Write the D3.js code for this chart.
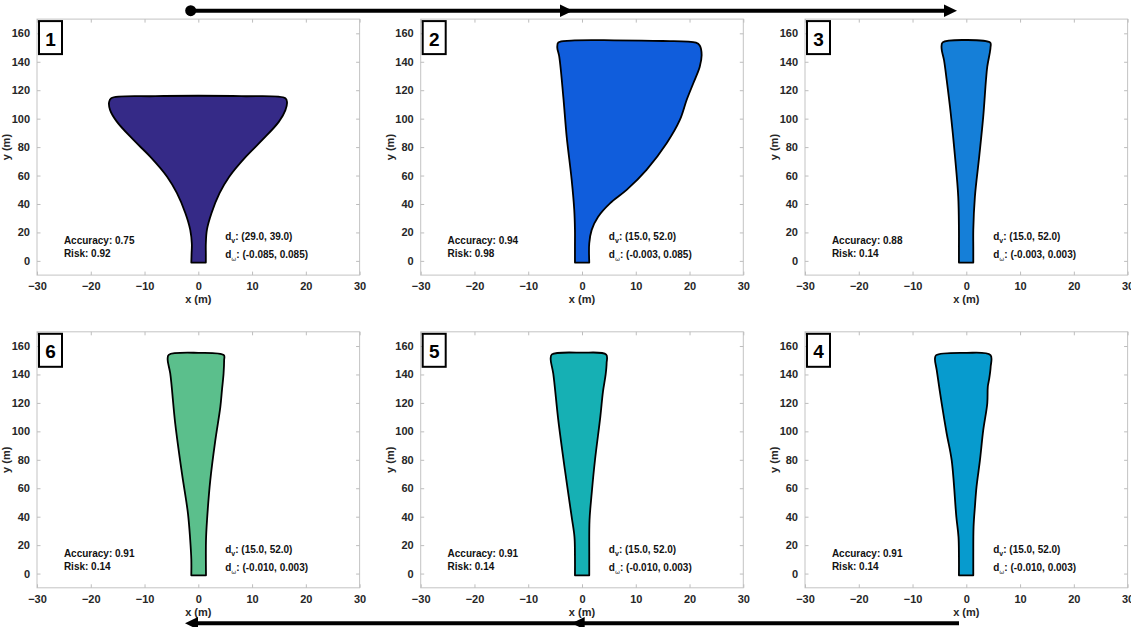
<!DOCTYPE html>
<html>
<head>
<meta charset="utf-8">
<script src="https://cdn.jsdelivr.net/npm/d3@7"></script>
<style>
  html, body { margin: 0; padding: 0; background: #fff; }
  svg { display: block; }
  text { font-family: "Liberation Sans", Arial, sans-serif; font-weight: bold; }
</style>
</head>
<body>
<svg id="chart" width="1131" height="627"></svg>
<script>
// ---------------- data ----------------
const panelIds   = ["1", "2", "3", "6", "5", "4"];
const accuracy   = ["0.75", "0.94", "0.88", "0.91", "0.91", "0.91"];
const risk       = ["0.92", "0.98", "0.14", "0.14", "0.14", "0.14"];
const dv         = ["(29.0, 39.0)", "(15.0, 52.0)", "(15.0, 52.0)", "(15.0, 52.0)", "(15.0, 52.0)", "(15.0, 52.0)"];
const dw         = ["(-0.085, 0.085)", "(-0.003, 0.085)", "(-0.003, 0.003)", "(-0.010, 0.003)", "(-0.010, 0.003)", "(-0.010, 0.003)"];
const fillColors = ["#352a87", "#105ddc", "#157fd8", "#5bbf8c", "#16b0b4", "#079bce"];

const xTicks = [-30, -20, -10, 0, 10, 20, 30];
const yTicks = [0, 20, 40, 60, 80, 100, 120, 140, 160];
const xDomain = [-30, 30];
const yDomain = [-10, 170];

// reachable-set outlines (x, y) in metres
const shape1 = [[-1.3,-1.2],[-1.25,5],[-1.2,12],[-1.5,21.8],[-2.4,33.5],[-3.97,47.6],[-5.8,59.2],[-8.95,73.3],[-12.05,85],[-15.15,97.9],[-16.4,106],[-16.6,111.5],[-16.2,114.4],
  [-8,115.8],[0,116.1],[8,115.8],
  [16.2,114.4],[16.5,111.5],[16.2,106],[15.0,97.9],[11.9,85],[8.85,73.3],[5.75,59.2],[3.95,47.6],[2.45,33.5],[1.6,21.8],[1.4,12],[1.4,5],[1.4,-1.2]];
const shape2 = [[-1.31,-1.2],[-1.31,10],[-1.31,21.8],[-1.44,35.8],[-1.92,56.9],[-2.85,87.4],[-3.48,115.5],[-4.23,143.6],[-4.6,150],[-4.4,153.6],
  [-2,154.9],[6,155.1],[15,154.6],[21.2,153.4],
  [21.9,151.4],[22.25,144.8],[21.9,136.5],[20.7,124.9],[19.46,113.1],[18.2,99.1],[15.74,82.7],[12.0,64],[8.3,49.9],[5.2,40.5],[3.0,31.1],[1.8,21.8],[1.35,12.4],[1.35,-1.2]];
const shape3 = [[-1.37,-1.2],[-1.37,10],[-1.37,21.8],[-1.5,45.2],[-2.1,73.3],[-2.9,103.8],[-3.65,127.2],[-4.15,141.3],[-4.6,149.5],[-4.4,153.6],
  [0,155.3],
  [4.45,153.4],[4.5,150],[4.4,147],[3.9,136.5],[3.66,127.2],[3.15,101.4],[2.4,73.3],[1.6,45.2],[1.3,21.8],[1.3,10],[1.3,-1.2]];
const shape6 = [[-1.3,-1.2],[-1.3,10],[-1.5,23.4],[-1.92,42.2],[-3.04,70.4],[-4.29,105.5],[-5.22,140.7],[-5.7,150.5],[-5.5,153.8],
  [0,155.2],
  [4.75,153.6],[4.8,150],[4.7,140.7],[4.4,129],[4.1,117.2],[3.17,93.8],[2.23,65.7],[1.62,37.5],[1.43,23.4],[1.43,-1.2]];
const shape5 = [[-1.31,-1.2],[-1.31,12],[-1.4,25.8],[-1.92,39.8],[-3.17,72.7],[-4.41,107.9],[-5.35,140.7],[-5.83,151],[-5.6,154.1],
  [0,155.3],
  [4.5,154],[4.58,148],[4.4,140],[3.9,128],[3.4,110],[2.41,79.7],[1.8,56.3],[1.4,37.5],[1.35,12],[1.35,-1.2]];
const shape4 = [[-1.37,-1.2],[-1.37,12],[-1.45,25.8],[-1.85,39.8],[-2.72,79.7],[-3.65,98.5],[-4.58,119.6],[-5.5,143],[-5.83,151],[-5.6,153.6],
  [0,155.2],
  [4.5,153.6],[4.53,145.4],[4.27,137.2],[4.0,131.4],[3.9,119.6],[3.15,100.8],[2.54,79.7],[1.9,61],[1.6,46.9],[1.35,32.8],[1.3,12],[1.3,-1.2]];
const shapes = [shape1, shape2, shape3, shape6, shape5, shape4];

// ---------------- layout ----------------
const colLeft = [37, 420.7, 805];
const rowTop  = [19.1, 331.8];
const axW = 322.6, axH = 256;

const svg = d3.select("#chart");

const lineGen = d3.line().curve(d3.curveCatmullRom.alpha(0.5));

panelIds.forEach((id, i) => {
  const col = i % 3, row = Math.floor(i / 3);
  const g = svg.append("g").attr("transform", `translate(${colLeft[col]},${rowTop[row]})`);
  const x = d3.scaleLinear().domain(xDomain).range([0, axW]);
  const y = d3.scaleLinear().domain(yDomain).range([axH, 0]);

  // axes box
  g.append("rect").attr("width", axW).attr("height", axH)
    .attr("fill", "none").attr("stroke", "#c4c4c4").attr("stroke-width", 1);

  const tickColor = "#bdbdbd";
  const xb = g.append("g").attr("transform", `translate(0,${axH})`)
    .call(d3.axisBottom(x).tickValues(xTicks).tickSize(-3.5).tickPadding(7).tickFormat(d3.format("d")));
  const xt = g.append("g")
    .call(d3.axisTop(x).tickValues(xTicks).tickSize(-3.5).tickFormat(""));
  const yl = g.append("g")
    .call(d3.axisLeft(y).tickValues(yTicks).tickSize(-3.5).tickPadding(7).tickFormat(d3.format("d")));
  const yr = g.append("g").attr("transform", `translate(${axW},0)`)
    .call(d3.axisRight(y).tickValues(yTicks).tickSize(-3.5).tickFormat(""));
  [xb, xt, yl, yr].forEach(a => {
    a.select(".domain").remove();
    a.selectAll(".tick line").attr("stroke", tickColor);
    a.selectAll(".tick text").attr("fill", "#262626").attr("font-size", "11px")
      .attr("font-family", "'Liberation Sans', Arial, sans-serif").attr("font-weight", "bold");
  });

  // axis labels
  g.append("text").attr("x", axW / 2).attr("y", axH + 28).attr("text-anchor", "middle")
    .attr("font-size", "11px").attr("fill", "#262626").text("x (m)");
  g.append("text").attr("transform", `translate(-27,${axH / 2}) rotate(-90)`)
    .attr("text-anchor", "middle").attr("font-size", "11px").attr("fill", "#262626").text("y (m)");

  // shape
  const pts = shapes[i].map(p => [x(p[0]), y(p[1])]);
  g.append("path").attr("d", lineGen(pts) + "Z")
    .attr("fill", fillColors[i]).attr("stroke", "#000").attr("stroke-width", 1.8)
    .attr("stroke-linejoin", "round");

  // annotations
  const fs = "10px";
  g.append("text").attr("x", x(-25)).attr("y", y(12)).attr("font-size", fs).attr("fill", "#111")
    .text("Accuracy: " + accuracy[i]);
  g.append("text").attr("x", x(-25)).attr("y", y(2.6)).attr("font-size", fs).attr("fill", "#111")
    .text("Risk: " + risk[i]);
  const t1 = g.append("text").attr("x", x(5)).attr("y", y(14.8)).attr("font-size", fs).attr("fill", "#111");
  t1.append("tspan").text("d");
  t1.append("tspan").attr("font-size", "7px").attr("dy", 3).text("v");
  t1.append("tspan").attr("dy", -3).text(": " + dv[i]);
  const t2 = g.append("text").attr("x", x(5)).attr("y", y(2)).attr("font-size", fs).attr("fill", "#111");
  t2.append("tspan").text("d");
  t2.append("tspan").attr("font-size", "6px").attr("font-family", "'DejaVu Sans', sans-serif")
    .attr("font-weight", "normal").attr("fill", "#444").attr("dy", 3).text("ω");
  t2.append("tspan").attr("dy", -3).text(": " + dw[i]);

  // panel number box
  g.append("rect").attr("x", 2).attr("y", 2).attr("width", 23).attr("height", 33)
    .attr("fill", "#fff").attr("stroke", "#000").attr("stroke-width", 2);
  g.append("text").attr("x", 13.5).attr("y", 26.5).attr("text-anchor", "middle")
    .attr("font-family", "'Open Sans', sans-serif").attr("font-size", "19px").attr("fill", "#000")
    .text(id);
});

// ---------------- flow arrows ----------------
const arrowY = [10.7, 623.3];
function head(xTip, yc, dir) { // dir: +1 right, -1 left
  const L = 13, H = 6.3;
  return `M${xTip},${yc} L${xTip - dir * L},${yc - H} L${xTip - dir * L},${yc + H} Z`;
}
const topArrow = svg.append("g");
topArrow.append("line").attr("x1", 190.7).attr("x2", 950).attr("y1", arrowY[0]).attr("y2", arrowY[0])
  .attr("stroke", "#000").attr("stroke-width", 4);
topArrow.append("circle").attr("cx", 190.7).attr("cy", arrowY[0]).attr("r", 5.5).attr("fill", "#000");
topArrow.append("path").attr("d", head(573, arrowY[0], 1)).attr("fill", "#000");
topArrow.append("path").attr("d", head(957, arrowY[0], 1)).attr("fill", "#000");

const botArrow = svg.append("g");
botArrow.append("line").attr("x1", 192).attr("x2", 959).attr("y1", arrowY[1]).attr("y2", arrowY[1])
  .attr("stroke", "#000").attr("stroke-width", 4);
botArrow.append("path").attr("d", head(185, arrowY[1], -1)).attr("fill", "#000");
botArrow.append("path").attr("d", head(571.7, arrowY[1], -1)).attr("fill", "#000");
</script>
</body>
</html>
